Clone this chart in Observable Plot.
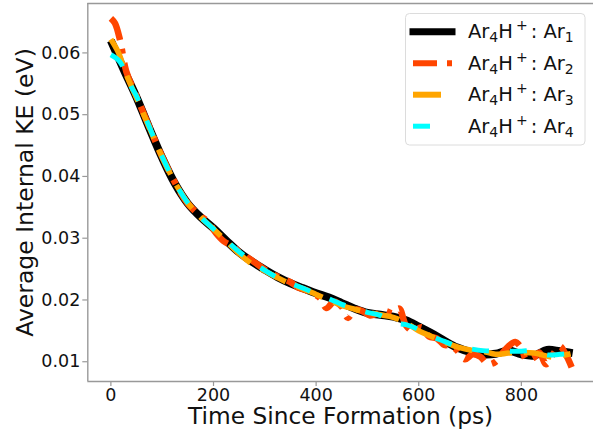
<!DOCTYPE html>
<html><head><meta charset="utf-8">
<script src="https://cdn.jsdelivr.net/npm/d3@7"></script>
<script src="https://cdn.jsdelivr.net/npm/@observablehq/plot@0.6"></script>
<style>
body{margin:0;background:#fff;}
#wrap{position:relative;width:593px;height:429px;font-family:"DejaVu Sans";overflow:hidden;}
#wrap svg{position:absolute;left:0;top:0;}
</style></head><body><div id="wrap"></div>
<script>
// ---- data ----
const timeAr1 = [0,25,50,75,100,125,150,175,200,225,250,275,300,325,350,375,400,425,450,475,500,525,550,575,600,625,650,675,700,725,750,775,800,825,850,875,900];
const keAr1 = [0.0620,0.0573,0.0528,0.0478,0.0430,0.0388,0.0356,0.0334,0.0316,0.0296,0.0277,0.0262,0.0249,0.0237,0.0227,0.0219,0.0211,0.0204,0.0195,0.0186,0.0179,0.0176,0.0173,0.0167,0.0157,0.0146,0.0134,0.0123,0.0116,0.0112,0.0113,0.0118,0.0112,0.0110,0.0119,0.0117,0.0114];

const timeAr2 = [0,8,18,30,50,75,100,125,150,175,190,205,220,235,255,275,290,310,330,350,365,380,395,408,420,435,450,462,475,490,505,520,535,550,562,575,590,605,620,635,650,662,675,690,705,720,735,750,762,775,788,800,810,825,835,848,860,875,887,898];
const keAr2 = [0.0656,0.0648,0.0620,0.0570,0.0530,0.0480,0.0432,0.0390,0.0356,0.0336,0.0326,0.0308,0.0295,0.0288,0.0275,0.0264,0.0255,0.0244,0.0236,0.0229,0.0220,0.0216,0.0210,0.0203,0.0187,0.0197,0.0189,0.0171,0.0184,0.0182,0.0175,0.0178,0.0182,0.0178,0.0186,0.0159,0.0149,0.0156,0.0141,0.0138,0.0127,0.0127,0.0118,0.0104,0.0112,0.0108,0.0096,0.0100,0.0113,0.0125,0.0132,0.0122,0.0103,0.0107,0.0115,0.0096,0.0110,0.0125,0.0111,0.0091];

const timeAr3 = [0,15,30,50,75,100,125,150,175,200,225,250,275,300,325,350,375,400,425,450,475,500,525,550,575,600,625,650,675,700,725,750,775,800,825,850,865,880,896];
const keAr3 = [0.0622,0.0600,0.0565,0.0527,0.0479,0.0431,0.0390,0.0357,0.0334,0.0315,0.0295,0.0275,0.0258,0.0247,0.0236,0.0226,0.0218,0.0209,0.0200,0.0191,0.0185,0.0180,0.0176,0.0172,0.0163,0.0150,0.0141,0.0132,0.0124,0.0119,0.0117,0.0112,0.0114,0.0115,0.0114,0.0109,0.0107,0.0110,0.0113];

const timeAr4 = [0,15,25,40,50,75,100,125,150,175,200,225,250,275,300,325,350,375,400,425,450,475,500,525,550,575,600,625,650,675,700,725,750,775,800,825,850,875,900];
const keAr4 = [0.0597,0.0588,0.0575,0.0545,0.0530,0.0480,0.0432,0.0390,0.0357,0.0334,0.0315,0.0296,0.0278,0.0262,0.0248,0.0236,0.0227,0.0219,0.0210,0.0202,0.0193,0.0186,0.0180,0.0175,0.0163,0.0160,0.0152,0.0141,0.0133,0.0125,0.0121,0.0118,0.0117,0.0117,0.0117,0.0118,0.0111,0.0112,0.0114];

const seriesSub = ["1","2","3","4"];
const seriesColors = ["#000000","#ff4500","#ffa500","#00ffff"];
const seriesDash = [null,"24,9,5,9","28,12","17,21"];
const legendDash = [null,"24,10,5,40","28,40","17,40"];
const seriesWidth = [8,6.5,5.5,5];

const xTicks = [0,200,400,600,800];
const yTicks = [0.01,0.02,0.03,0.04,0.05,0.06];
const xDomain = [-45,940.6];
const yDomain = [0.0068,0.068];
const xLabel = "Time Since Formation (ps)";
const yLabel = "Average Internal KE (eV)";

// ---- build ----
const rows = (t, v) => t.map((d, i) => ({t: d, v: v[i]}));
const series = [rows(timeAr1, keAr1), rows(timeAr2, keAr2), rows(timeAr3, keAr3), rows(timeAr4, keAr4)];

const lineMarks = series.map((data, i) => Plot.line(data, {
  x: "t", y: "v", stroke: seriesColors[i], strokeWidth: seriesWidth[i],
  strokeDasharray: seriesDash[i] || undefined, curve: "catmull-rom",
  strokeLinecap: "butt", strokeLinejoin: "round"
}));

const spine = {stroke: "#999", strokeWidth: 1.4};
const chart = Plot.plot({
  width: 593, height: 429,
  marginLeft: 87.3, marginRight: 0, marginTop: 3, marginBottom: 48,
  style: {fontFamily: "DejaVu Sans", fontSize: "17.5px", color: "#000", background: "transparent", overflow: "visible"},
  x: {domain: xDomain, label: null},
  y: {domain: yDomain, label: null},
  marks: [
    Plot.axisX({ticks: xTicks, tickFormat: d => String(d), tickSize: 5, tickPadding: 2.5, stroke: "#999", fill: "#111", strokeWidth: 1.2, fontSize: 17.5, label: null}),
    Plot.axisY({ticks: yTicks, tickFormat: d => d.toFixed(2), tickSize: 5, tickPadding: 2.5, stroke: "#999", fill: "#111", strokeWidth: 1.2, fontSize: 17.5, label: null}),
    ...lineMarks,
    Plot.ruleX([xDomain[0]], spine),
    Plot.ruleY([yDomain[0]], spine),
    Plot.ruleY([yDomain[1]], spine),
    Plot.text([xLabel], {text: d => d, frameAnchor: "bottom", textAnchor: "middle", lineAnchor: "middle", dy: 35.5, fontSize: 23.3, fill: "#111"}),
    Plot.text([yLabel], {text: d => d, frameAnchor: "left", textAnchor: "middle", lineAnchor: "middle", rotate: -90, dx: -62, fontSize: 23.5, fill: "#111"})
  ]
});
const wrap = document.getElementById("wrap");
wrap.appendChild(chart);

// ---- legend overlay ----
const leg = d3.select(wrap).append("svg").attr("width", 593).attr("height", 429)
  .style("position", "absolute").style("left", 0).style("top", 0);
leg.append("rect").attr("x", 405.5).attr("y", 13.5).attr("width", 179.5).attr("height", 131.5)
  .attr("rx", 4).attr("fill", "rgba(255,255,255,0.85)").attr("stroke", "#dcdcdc").attr("stroke-width", 1);
seriesSub.forEach((s, i) => {
  const cy = 31.7 + i * 31.5;
  leg.append("line").attr("x1", i === 0 ? 409.5 : 413).attr("x2", 455.5).attr("y1", cy).attr("y2", cy)
    .attr("stroke", seriesColors[i]).attr("stroke-width", i === 0 ? 7 : 6 - (i === 3 ? 1 : 0))
    .attr("stroke-dasharray", legendDash[i]);
  const t = leg.append("text").attr("x", 468).attr("y", cy + 6.5)
    .attr("font-family", "DejaVu Sans").attr("font-size", 19.5).attr("fill", "#111");
  t.append("tspan").text("Ar");
  t.append("tspan").attr("font-size", 14).attr("dy", 4).text("4");
  t.append("tspan").attr("dy", -4).text("H");
  t.append("tspan").attr("font-size", 14).attr("dx", 3).attr("dy", -8).text("+");
  t.append("tspan").attr("dy", 8).attr("dx", 3).text(": Ar");
  t.append("tspan").attr("font-size", 14).attr("dy", 4).text(s);
});
</script></body></html>
